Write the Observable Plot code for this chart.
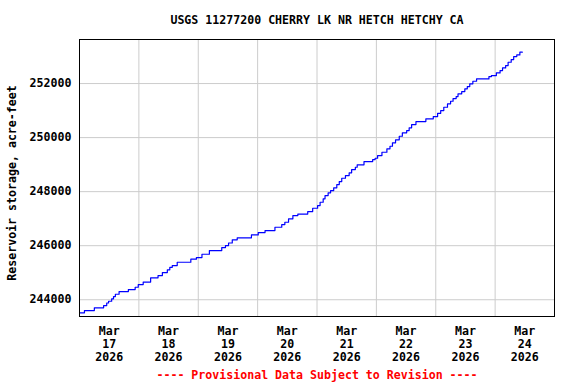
<!DOCTYPE html>
<html>
<head>
<meta charset="utf-8">
<script src="https://cdn.jsdelivr.net/npm/d3@7"></script>
<script src="https://cdn.jsdelivr.net/npm/@observablehq/plot@0.6"></script>
<style>
  body { margin: 0; background: #fff; }
  #wrap { position: relative; width: 576px; height: 384px; font-family: "DejaVu Sans Mono", monospace; font-weight: bold; font-size: 11.6px; }
  #title { position: absolute; left: 79px; width: 476px; top: 14px; line-height: 12px; text-align: center; color: #000; white-space: pre; }
  #chart { position: absolute; left: 0; top: 32px; }
  #caption { position: absolute; left: 79px; width: 476px; top: 369px; line-height: 12px; text-align: center; color: #f00; white-space: pre; }
</style>
</head>
<body>
<div id="wrap">
  <div id="title"></div>
  <div id="chart"></div>
  <div id="caption"></div>
</div>
<script>
const titleText = "USGS 11277200 CHERRY LK NR HETCH HETCHY CA";
const captionText = "---- Provisional Data Subject to Revision ----";
const yLabel = "Reservoir storage, acre-feet";
const monthNames = ["Jan","Feb","Mar","Apr","May","Jun","Jul","Aug","Sep","Oct","Nov","Dec"];

const times = [
"2026-03-17T00:00Z","2026-03-17T02:00Z","2026-03-17T06:00Z","2026-03-17T09:45Z","2026-03-17T11:00Z","2026-03-17T11:45Z","2026-03-17T13:00Z","2026-03-17T13:45Z","2026-03-17T14:30Z","2026-03-17T16:00Z","2026-03-17T19:45Z","2026-03-17T22:30Z","2026-03-17T23:45Z",
"2026-03-18T01:45Z","2026-03-18T04:45Z","2026-03-18T07:45Z","2026-03-18T09:30Z","2026-03-18T11:30Z","2026-03-18T12:30Z","2026-03-18T13:30Z","2026-03-18T15:30Z","2026-03-18T21:00Z","2026-03-18T23:15Z",
"2026-03-19T01:30Z","2026-03-19T04:30Z","2026-03-19T09:30Z","2026-03-19T11:00Z","2026-03-19T12:15Z","2026-03-19T13:45Z","2026-03-19T15:45Z","2026-03-19T21:30Z",
"2026-03-20T00:15Z","2026-03-20T03:00Z","2026-03-20T07:00Z","2026-03-20T09:45Z","2026-03-20T11:00Z","2026-03-20T12:30Z","2026-03-20T14:15Z","2026-03-20T16:15Z","2026-03-20T20:15Z","2026-03-20T22:15Z",
"2026-03-21T00:15Z","2026-03-21T01:15Z","2026-03-21T02:30Z","2026-03-21T03:15Z","2026-03-21T04:30Z","2026-03-21T05:30Z","2026-03-21T06:45Z","2026-03-21T08:00Z","2026-03-21T09:00Z","2026-03-21T10:00Z","2026-03-21T11:30Z","2026-03-21T13:00Z","2026-03-21T14:00Z","2026-03-21T15:30Z","2026-03-21T16:15Z","2026-03-21T19:00Z","2026-03-21T22:30Z","2026-03-21T23:30Z",
"2026-03-22T00:30Z","2026-03-22T02:15Z","2026-03-22T04:15Z","2026-03-22T05:30Z","2026-03-22T06:30Z","2026-03-22T07:45Z","2026-03-22T09:15Z","2026-03-22T10:30Z","2026-03-22T12:15Z","2026-03-22T13:15Z","2026-03-22T14:15Z","2026-03-22T16:00Z","2026-03-22T20:00Z","2026-03-22T23:00Z",
"2026-03-23T00:45Z","2026-03-23T02:00Z","2026-03-23T03:15Z","2026-03-23T04:45Z","2026-03-23T06:00Z","2026-03-23T07:00Z","2026-03-23T08:15Z","2026-03-23T09:00Z","2026-03-23T10:30Z","2026-03-23T11:45Z","2026-03-23T12:45Z","2026-03-23T13:45Z","2026-03-23T15:00Z","2026-03-23T16:30Z","2026-03-23T21:30Z","2026-03-23T22:30Z",
"2026-03-24T00:30Z","2026-03-24T02:00Z","2026-03-24T03:00Z","2026-03-24T04:15Z","2026-03-24T05:15Z","2026-03-24T06:30Z","2026-03-24T07:30Z","2026-03-24T08:45Z","2026-03-24T10:00Z","2026-03-24T11:00Z"
];

const storage = [
243515, 243600, 243700, 243785, 243880, 243945, 244033, 244118, 244204, 244303, 244377, 244463, 244562,
244655, 244810, 244895, 245006, 245106, 245200, 245265, 245388, 245500, 245560,
245684, 245820, 245930, 246005, 246100, 246216, 246290, 246400,
246486, 246560, 246683, 246782, 246868, 246993, 247115, 247170, 247263, 247385,
247485, 247608, 247733, 247855, 247955, 248040, 248140, 248262, 248373, 248496, 248595, 248695, 248817, 248903, 248991, 249113, 249187, 249236,
249335, 249458, 249583, 249680, 249805, 249916, 250050, 250175, 250260, 250360, 250482, 250593, 250693, 250778,
250900, 251000, 251123, 251248, 251345, 251444, 251518, 251618, 251703, 251803, 251888, 251988, 252085, 252173, 252258, 252295,
252395, 252480, 252580, 252665, 252788, 252888, 252998, 253060, 253160, 253160
];

const yTicks = [244000, 246000, 248000, 250000, 252000];
const gridDays = ["2026-03-18T00:00Z","2026-03-19T00:00Z","2026-03-20T00:00Z","2026-03-21T00:00Z","2026-03-22T00:00Z","2026-03-23T00:00Z","2026-03-24T00:00Z"];
const labelDays = ["2026-03-17T12:00Z","2026-03-18T12:00Z","2026-03-19T12:00Z","2026-03-20T12:00Z","2026-03-21T12:00Z","2026-03-22T12:00Z","2026-03-23T12:00Z","2026-03-24T12:00Z"];
const xDomain = ["2026-03-17T00:00Z", "2026-03-25T00:00Z"];
const yDomain = [243380, 253630];

const data = times.map((t, i) => ({t: new Date(t), v: storage[i]}));

document.getElementById("title").textContent = titleText;
document.getElementById("caption").textContent = captionText;

const chart = Plot.plot({
  width: 576,
  height: 336,
  marginLeft: 79,
  marginRight: 22,
  marginTop: 7,
  marginBottom: 52,
  style: {fontFamily: "'DejaVu Sans Mono', monospace", fontWeight: "bold", fontSize: "11.6px", background: "white", color: "black", overflow: "visible"},
  x: {type: "utc", domain: xDomain.map(d => new Date(d))},
  y: {domain: yDomain},
  marks: [
    Plot.gridY(yTicks, {stroke: "#cccccc", strokeOpacity: 1, strokeWidth: 1}),
    Plot.gridX(gridDays.map(d => new Date(d)), {stroke: "#cccccc", strokeOpacity: 1, strokeWidth: 1}),
    Plot.line(data, {x: "t", y: "v", curve: "step-after", stroke: "#0000ff", strokeWidth: 1.2}),
    Plot.frame({stroke: "black", strokeWidth: 1}),
    Plot.axisY(yTicks, {tickSize: 0, tickPadding: 8, tickFormat: d => String(d), label: null}),
    Plot.axisX(labelDays.map(d => new Date(d)), {
      tickSize: 0, tickPadding: 9, lineHeight: 1.12, label: null,
      tickFormat: d => `${monthNames[d.getUTCMonth()]}\n${d.getUTCDate()}\n${d.getUTCFullYear()}`
    }),
    Plot.text([yLabel], {text: d => d, frameAnchor: "left", textAnchor: "middle", lineAnchor: "middle", rotate: -90, dx: -67, dy: 5, fill: "black"})
  ]
});
document.getElementById("chart").appendChild(chart);
</script>
</body>
</html>
